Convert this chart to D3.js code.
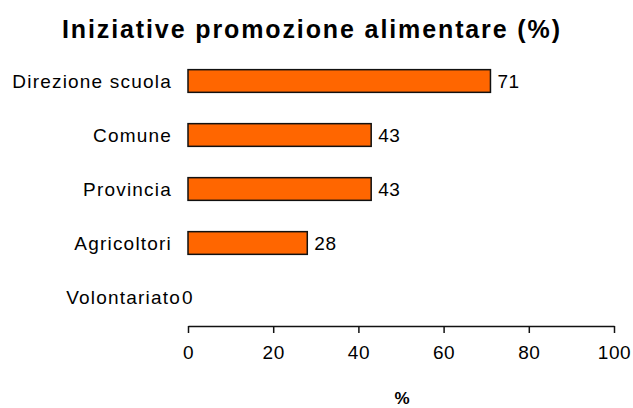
<!DOCTYPE html>
<html>
<head>
<meta charset="utf-8">
<script src="https://cdnjs.cloudflare.com/ajax/libs/d3/7.8.5/d3.min.js"></script>
<style>
  html, body { margin: 0; padding: 0; background: #fff; }
  svg { display: block; }
  text { font-family: "Liberation Sans", Arial, sans-serif; fill: #000; }
</style>
</head>
<body>
<script>
const categories = ["Direzione scuola", "Comune", "Provincia", "Agricoltori", "Volontariato"];
const values = [71, 43, 43, 28, 0];
const xTicks = [0, 20, 40, 60, 80, 100];
const titleText = "Iniziative promozione alimentare (%)";
const xAxisTitle = "%";

const W = 633, H = 408;
const svg = d3.select("body").append("svg").attr("width", W).attr("height", H);

const x = d3.scaleLinear().domain([0, 100]).range([188, 614]);
const y = d3.scaleBand().domain(categories).range([54, 324]).paddingInner(0.58).paddingOuter(0.29);

// title
svg.append("text")
  .attr("x", 311).attr("y", 38)
  .attr("text-anchor", "middle")
  .style("font-size", "25px").style("font-weight", "bold")
  .attr("textLength", 498).attr("lengthAdjust", "spacing")
  .text(titleText);

const data = categories.map((c, i) => ({ c, v: values[i] }));

// bars
svg.selectAll("rect.bar").data(data).enter().append("rect")
  .attr("class", "bar")
  .attr("x", x(0))
  .attr("y", d => y(d.c))
  .attr("width", d => x(d.v) - x(0))
  .attr("height", y.bandwidth())
  .attr("fill", "#FF6600")
  .attr("stroke", "#111")
  .attr("stroke-width", 1.5)
  .style("display", d => d.v === 0 ? "none" : null);

// category labels
svg.selectAll("text.cat").data(data).enter().append("text")
  .attr("class", "cat")
  .attr("x", d => d.v === 0 ? 181 : 172)
  .attr("y", d => y(d.c) + y.bandwidth() / 2 + 7)
  .attr("text-anchor", "end")
  .style("font-size", "19px").style("letter-spacing", "1.2px")
  .text(d => d.c);

// value labels
svg.selectAll("text.val").data(data).enter().append("text")
  .attr("class", "val")
  .attr("x", d => d.v === 0 ? x(d.v) - 6 : x(d.v) + 7)
  .attr("y", d => y(d.c) + y.bandwidth() / 2 + 7)
  .style("font-size", "19px").style("letter-spacing", "0.6px")
  .text(d => d.v);

// x axis
const axis = svg.append("g")
  .attr("transform", "translate(0,326)")
  .call(d3.axisBottom(x).tickValues(xTicks).tickSize(7).tickSizeOuter(0).tickPadding(13).tickFormat(d3.format("d")));
axis.select(".domain").attr("stroke", "#111").attr("stroke-width", 1.5);
axis.selectAll(".tick line").attr("stroke", "#111").attr("stroke-width", 1.5);
axis.selectAll(".tick text")
  .style("font-size", "19px").style("letter-spacing", "0.6px")
  .attr("font-family", null).attr("fill", "#000");

// x axis title
svg.append("text")
  .attr("x", 402).attr("y", 404)
  .attr("text-anchor", "middle")
  .style("font-size", "17px").style("font-weight", "bold")
  .text(xAxisTitle);
</script>
</body>
</html>
